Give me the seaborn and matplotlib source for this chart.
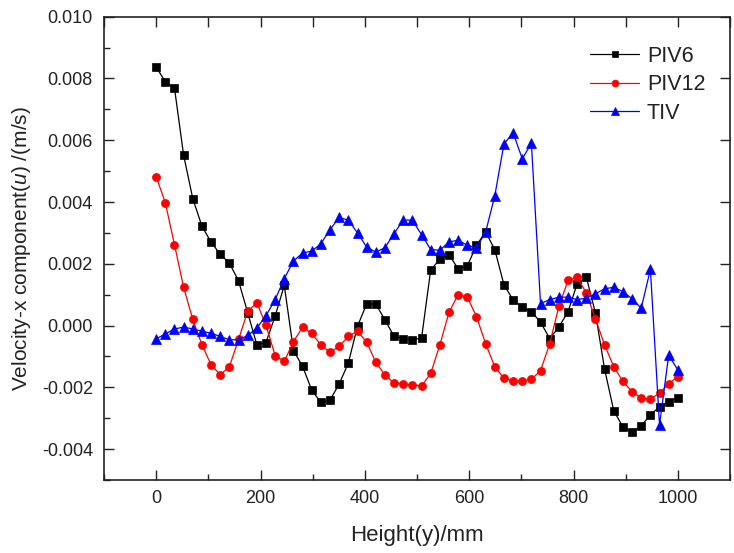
import matplotlib
matplotlib.use("Agg")
import matplotlib.pyplot as plt
from matplotlib.ticker import MultipleLocator, FormatStrFormatter, NullFormatter
import numpy as np
import pandas as pd
import seaborn as sns

# Measurement heights (mm)
height = [0, 17.5, 35.1, 52.6, 70.2, 87.7, 105.3, 122.8, 140.4, 157.9,
          175.4, 193.0, 210.5, 228.1, 245.6, 263.2, 280.7, 298.2, 315.8, 333.3,
          350.9, 368.4, 386.0, 403.5, 421.1, 438.6, 456.1, 473.7, 491.2, 508.8,
          526.3, 543.9, 561.4, 578.9, 596.5, 614.0, 631.6, 649.1, 666.7, 684.2,
          701.8, 719.3, 736.8, 754.4, 771.9, 789.5, 807.0, 824.6, 842.1, 859.6,
          877.2, 894.7, 912.3, 929.8, 947.4, 964.9, 982.5, 1000.0]

# Velocity-x component u (m/s)
piv6 = [0.00837, 0.00790, 0.00769, 0.00552, 0.00411, 0.00322, 0.00270, 0.00231, 0.00202, 0.00145,
        0.00042, -0.00062, -0.00055, 0.00031, 0.00130, -0.00081, -0.00132, -0.00209, -0.00249, -0.00241,
        -0.00189, -0.00121, -0.00002, 0.00070, 0.00070, 0.00018, -0.00035, -0.00042, -0.00046, -0.00040,
        0.00181, 0.00214, 0.00229, 0.00184, 0.00193, 0.00260, 0.00303, 0.00246, 0.00132, 0.00083,
        0.00059, 0.00045, 0.00011, -0.00042, -0.00005, 0.00045, 0.00135, 0.00157, 0.00040, -0.00141,
        -0.00276, -0.00328, -0.00344, -0.00325, -0.00289, -0.00263, -0.00247, -0.00235]

piv12 = [0.00482, 0.00398, 0.00262, 0.00124, 0.00020, -0.00062, -0.00127, -0.00159, -0.00133, -0.00045,
         0.00046, 0.00074, 0.00001, -0.00097, -0.00116, -0.00052, -0.00005, -0.00025, -0.00063, -0.00087,
         -0.00067, -0.00035, -0.00018, -0.00054, -0.00119, -0.00160, -0.00186, -0.00188, -0.00192, -0.00195,
         -0.00155, -0.00062, 0.00043, 0.00100, 0.00092, 0.00029, -0.00059, -0.00133, -0.00171, -0.00179,
         -0.00179, -0.00174, -0.00146, -0.00059, 0.00062, 0.00146, 0.00157, 0.00105, 0.00022, -0.00063,
         -0.00133, -0.00181, -0.00214, -0.00235, -0.00239, -0.00218, -0.00189, -0.00165]

tiv = [-0.00043, -0.00027, -0.00011, -0.00005, -0.00011, -0.00018, -0.00025, -0.00035, -0.00046, -0.00046,
       -0.00032, -0.00008, 0.00032, 0.00084, 0.00152, 0.00209, 0.00235, 0.00241, 0.00265, 0.00311,
       0.00350, 0.00341, 0.00300, 0.00254, 0.00238, 0.00252, 0.00298, 0.00342, 0.00341, 0.00294,
       0.00246, 0.00244, 0.00271, 0.00276, 0.00260, 0.00252, 0.00303, 0.00420, 0.00588, 0.00624,
       0.00540, 0.00590, 0.00071, 0.00084, 0.00092, 0.00092, 0.00084, 0.00089, 0.00103, 0.00119,
       0.00124, 0.00110, 0.00087, 0.00056, 0.00182, -0.00322, -0.00095, -0.00144]

series_names = ["PIV6", "PIV12", "TIV"]
series_values = [piv6, piv12, tiv]
series_colors = ["#000000", "#ff0000", "#0000ff"]
series_markers = ["s", "o", "^"]
series_msize = [5.2, 5.8, 6.5]

df = pd.concat(
    [pd.DataFrame({"height": height, "u": vals, "series": name})
     for name, vals in zip(series_names, series_values)],
    ignore_index=True,
)

sns.set_style("ticks", {"xtick.direction": "in", "ytick.direction": "in"})
plt.rcParams["font.family"] = ["Liberation Sans", "DejaVu Sans"]
plt.rcParams["mathtext.fontset"] = "custom"
plt.rcParams["mathtext.it"] = "Liberation Sans:italic"
plt.rcParams["mathtext.rm"] = "Liberation Sans"
plt.rcParams["axes.unicode_minus"] = False

ink = "#222222"
fig = plt.figure(figsize=(7.34, 5.53), dpi=100)
ax = fig.add_axes([104 / 734, 1 - 480 / 553, (730 - 104) / 734, (480 - 16.7) / 553])

for name, color, mk, ms in zip(series_names, series_colors, series_markers, series_msize):
    sns.lineplot(data=df[df["series"] == name], x="height", y="u", ax=ax,
                 color=color, marker=mk, markersize=ms, linewidth=0.9,
                 mec=color, mew=0.5, label=name, sort=False)

ax.set_xlim(-100, 1100)
ax.set_ylim(-0.005, 0.010)
ax.xaxis.set_major_locator(MultipleLocator(200))
ax.xaxis.set_minor_locator(MultipleLocator(100))
ax.yaxis.set_major_locator(MultipleLocator(0.002))
ax.yaxis.set_minor_locator(MultipleLocator(0.001))
ax.yaxis.set_major_formatter(FormatStrFormatter("%.3f"))

# bottom/left: major + minor; right: major only
ax.tick_params(which="both", direction="in", top=False, right=True,
               width=1.0, colors=ink, labelcolor=ink)
ax.tick_params(which="major", length=7, labelsize=13)
ax.tick_params(which="minor", length=4, right=False)
ax.tick_params(axis="y", which="major", pad=8)
ax.tick_params(axis="x", which="major", pad=7)

# top edge: uniform ticks every 100 mm
ax_top = ax.twiny()
ax_top.set_xlim(ax.get_xlim())
ax_top.xaxis.set_major_locator(MultipleLocator(100))
ax_top.xaxis.set_major_formatter(NullFormatter())
ax_top.tick_params(axis="x", which="major", direction="in", top=True, bottom=False,
                   labeltop=False, length=7, width=1.0, colors=ink)
ax_top.tick_params(axis="x", which="minor", top=False, bottom=False)
ax_top.tick_params(axis="y", which="both", left=False, right=False,
                   labelleft=False, labelright=False)
ax_top.grid(False)
for sp in ax_top.spines.values():
    sp.set_visible(False)

for sp in ax.spines.values():
    sp.set_linewidth(1.2)
    sp.set_color(ink)

ax.set_xlabel("Height(y)/mm", fontsize=16, color=ink, labelpad=13)
ax.set_ylabel(r"Velocity-x component($u$) /(m/s)", fontsize=15, color=ink, labelpad=6)

leg = ax.legend(loc="upper left", bbox_to_anchor=(0.745, 0.979), frameon=False,
                fontsize=15.5, handlelength=2.3, handletextpad=0.35,
                labelspacing=0.35, markerscale=0.85)
for t in leg.get_texts():
    t.set_color(ink)

fig.savefig("out.png", dpi=100, facecolor="white")
